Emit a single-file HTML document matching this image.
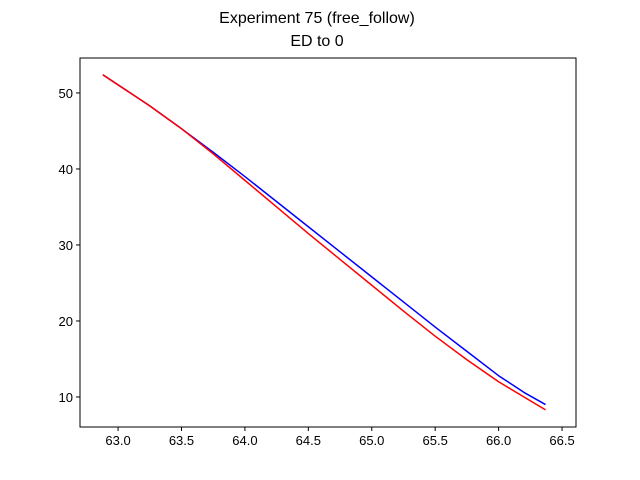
<!DOCTYPE html>
<html><head><meta charset="utf-8"><style>
body{margin:0;background:#fff;}
svg{display:block;font-family:"Liberation Sans","DejaVu Sans",sans-serif;}
</style></head><body>
<svg id="chart" width="640" height="480">
<rect width="640" height="480" fill="#fff"/>
<text x="317" y="23" text-anchor="middle" font-size="16">Experiment 75 (free_follow)</text>
<text x="317" y="46" text-anchor="middle" font-size="16">ED to 0</text>
<g id="ticks"></g>
<g id="lines"></g>
<rect x="80" y="58" width="496" height="369" fill="none" stroke="#000" stroke-width="1"/>
</svg>
<script>
const xTicks=[63.0,63.5,64.0,64.5,65.0,65.5,66.0,66.5];
const yTicks=[10,20,30,40,50];
const blueX=[62.88,63.25,63.5,63.75,64.0,64.25,64.5,64.75,65.0,65.25,65.5,65.75,66.0,66.2,66.37];
const blueY=[52.4,48.3,45.3,42.2,39.0,35.7,32.4,29.1,25.8,22.5,19.2,16.0,12.8,10.6,9.0];
const redX=[62.88,63.25,63.5,63.75,64.0,64.25,64.5,64.75,65.0,65.25,65.5,65.75,66.0,66.2,66.37];
const redY=[52.4,48.3,45.3,42.0,38.5,35.0,31.5,28.1,24.7,21.3,18.0,14.9,12.0,10.0,8.3];
const L=80,R=576,T=58,B=427,xMin=62.70,xMax=66.61,yMin=6.05,yMax=54.6;
const sx=v=>L+(v-xMin)/(xMax-xMin)*(R-L);
const sy=v=>B-(v-yMin)/(yMax-yMin)*(B-T);
const NS="http://www.w3.org/2000/svg";
const tg=document.getElementById('ticks');
function mk(tag,attrs,parent){const e=document.createElementNS(NS,tag);for(const k in attrs)e.setAttribute(k,attrs[k]);parent.appendChild(e);return e;}
xTicks.forEach(v=>{
 const x=sx(v);
 const l=mk('line',{x1:x,x2:x,y1:B,y2:B+4,stroke:'#000'},tg);
 
 
 const t=mk('text',{x:x,y:B+18,'text-anchor':'middle','font-size':13},tg);
 t.textContent=v.toFixed(1);
 
 
});
yTicks.forEach(v=>{
 const y=sy(v);
 const l=mk('line',{x1:L-4,x2:L,y1:y,y2:y,stroke:'#000'},tg);
 
 
 const t=mk('text',{x:L-7,y:y+5,'text-anchor':'end','font-size':13},tg);
 t.textContent=v;
 
 
});
const lg=document.getElementById('lines');
function series(xs,ys,color,name){
 const p=mk('polyline',{points:xs.map((x,i)=>sx(x)+','+sy(ys[i])).join(' '),fill:'none',stroke:color,'stroke-width':1.5,'stroke-linejoin':'round'},lg);
 
 
}
series(blueX,blueY,'#0000ff','blue-series-line');
series(redX,redY,'#ff0000','red-series-line');
</script>
</body></html>
